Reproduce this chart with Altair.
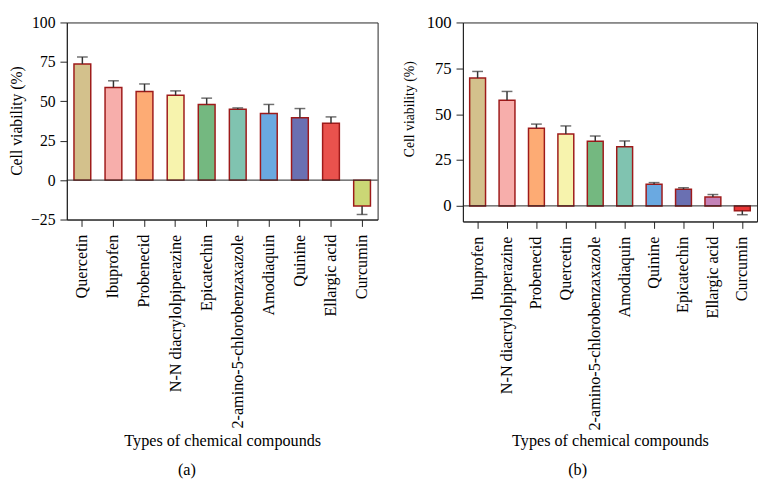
import altair as alt
import pandas as pd

FONT = "Liberation Serif"

# Panel (a)
cats_a = ["Quercetin", "Ibuprofen", "Probenecid", "N-N diacrylolpiperazine", "Epicatechin",
          "2-amino-5-chlorobenzaxazole", "Amodiaquin", "Quinine", "Ellargic acid", "Curcumin"]
vals_a = [73.7, 58.8, 56.2, 53.8, 48.0, 45.0, 42.2, 39.5, 36.1, -16.4]
errs_a = [4.4, 4.2, 4.8, 2.8, 4.0, 0.8, 5.8, 5.9, 4.0, 5.4]
cols_a = ["#d3c18c", "#f7aeab", "#fdab74", "#f7f3ad", "#74b880",
          "#80c3b0", "#6aa9e1", "#6a70b2", "#e9524d", "#cbd775"]

# Panel (b)
cats_b = ["Ibuprofen", "N-N diacrylolpiperazine", "Probenecid", "Quercetin",
          "2-amino-5-chlorobenzaxazole", "Amodiaquin", "Quinine", "Epicatechin",
          "Ellargic acid", "Curcumin"]
vals_b = [69.7, 57.6, 42.3, 39.2, 35.2, 32.3, 11.8, 9.1, 4.8, -2.6]
errs_b = [3.6, 4.8, 2.3, 4.4, 2.9, 3.1, 0.9, 0.8, 1.4, 2.2]
cols_b = ["#d3c18c", "#f7aeab", "#fdab74", "#f7f3ad", "#74b880",
          "#80c3b0", "#6aa9e1", "#6a70b2", "#c482b8", "#e83535"]


def panel(cats, vals, errs, cols, ydomain, yticks, w, h, label, label_dx,
          lab_pad, ytitle_pad, title_y, ylab_size, ytitle_size, ytitle_y):
    df = pd.DataFrame({"cat": cats, "val": vals, "err": errs, "col": cols})
    df["end"] = [v + e if v >= 0 else v - e for v, e in zip(vals, errs)]
    x = alt.X("cat:N", sort=cats, title="Types of chemical compounds",
              scale=alt.Scale(paddingInner=0.46, paddingOuter=0.23),
              axis=alt.Axis(labelAngle=270, labelPadding=lab_pad,
                            tickSize=7, labelFontSize=16.5, titleFontSize=16.5,
                            labelLimit=400, titleY=title_y, titleBaseline="middle"))
    yscale = alt.Scale(domain=ydomain, nice=False, zero=False)
    yaxis = alt.Axis(values=yticks, tickSize=7, labelPadding=5, titlePadding=ytitle_pad,
                     labelFontSize=ylab_size, titleFontSize=ytitle_size, grid=False,
                     titleY=ytitle_y)
    base = alt.Chart(df)
    bars = base.mark_bar(stroke="#9e1a1a", strokeWidth=1.5).encode(
        x=x,
        y=alt.Y("val:Q", scale=yscale, axis=yaxis, title="Cell viability (%)"),
        fill=alt.Fill("col:N", scale=None, legend=None),
    )
    rules = base.mark_rule(color="#333333", strokeWidth=1.5).encode(
        x=alt.X("cat:N", sort=cats), y="val:Q", y2="end:Q")
    caps = base.mark_tick(color="#333333", thickness=1.5, size=11, orient="horizontal").encode(
        x=alt.X("cat:N", sort=cats), y="end:Q")
    zero = alt.Chart(pd.DataFrame({"z": [0]})).mark_rule(color="#222222", strokeWidth=1).encode(
        y="z:Q")
    return alt.layer(bars, rules, caps, zero).properties(
        width=w, height=h,
        title=alt.TitleParams(label, orient="bottom", dx=label_dx, offset=13,
                              fontSize=16.5, fontWeight="normal", font=FONT),
    )


pa = panel(cats_a, vals_a, errs_a, cols_a, [-25, 100], [-25, 0, 25, 50, 75, 100],
           317, 201, "(a)", -36, 8, 6, 226, 16, 16, 100)
pb = panel(cats_b, vals_b, errs_b, cols_b, [-8.5, 100], [0, 25, 50, 75, 100],
           300, 203, "(b)", -33, 8, 10, 224, 17, 14, 88)

chart = alt.hconcat(pa, pb, spacing=24).resolve_scale(fill="independent").properties(
    padding={"left": 0, "top": 0, "right": 0, "bottom": 0}
).configure_view(stroke="#222222", strokeWidth=1).configure_axis(
    labelFont=FONT, titleFont=FONT, labelColor="black", titleColor="black",
    domainColor="#222222", tickColor="#222222", titleFontWeight="normal",
).configure_title(color="black")

chart.save("out.html", embed_options={"renderer": "svg", "actions": False})
